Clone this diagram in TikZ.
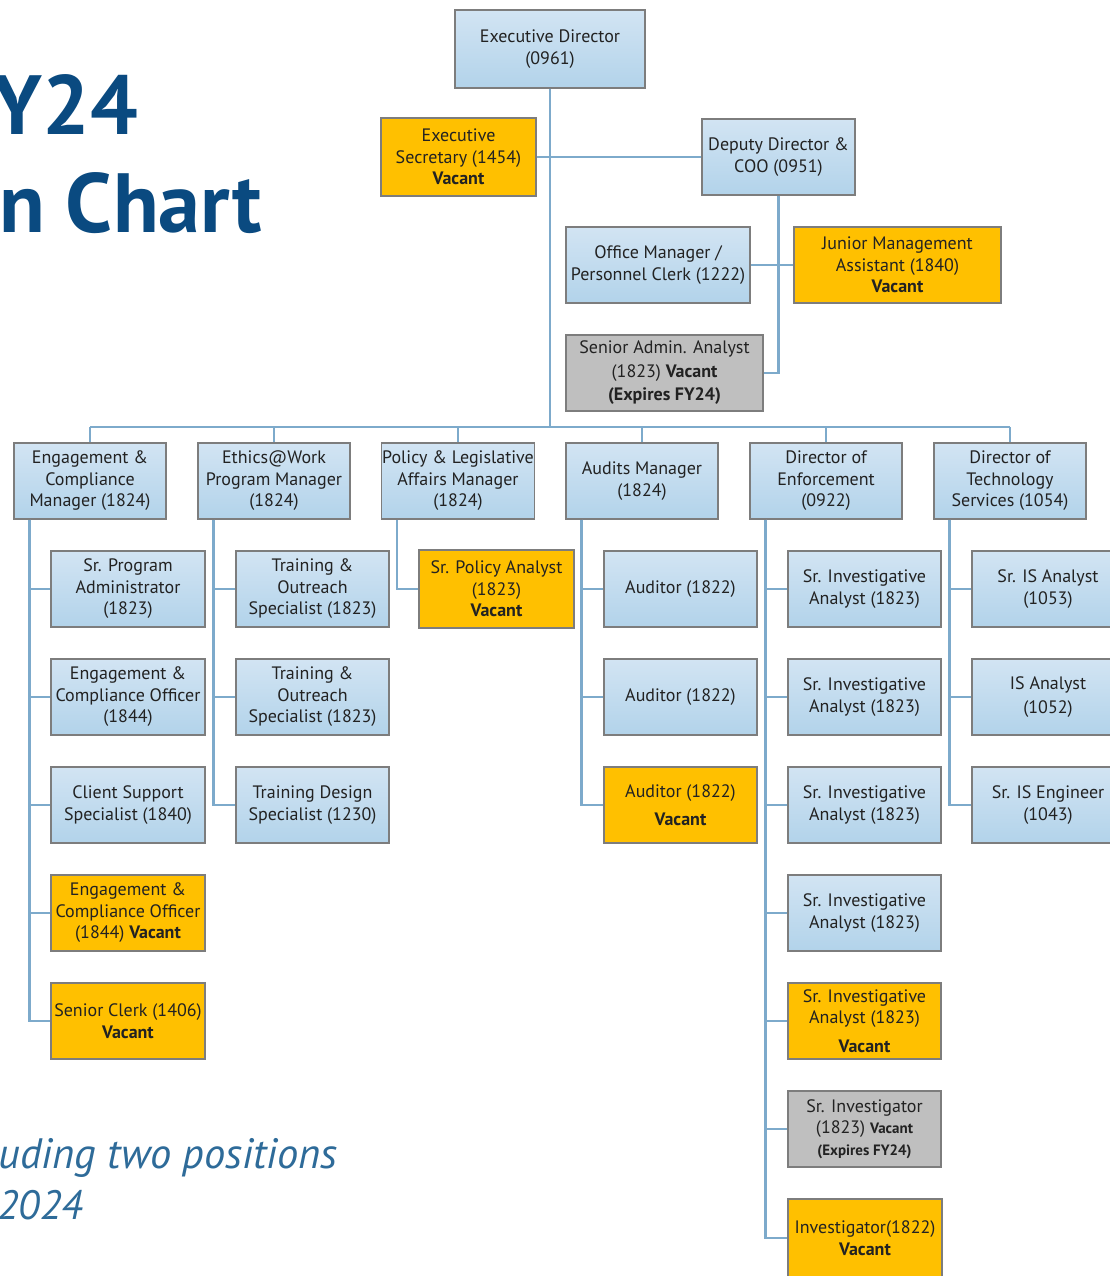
\documentclass[tikz,border=0pt]{standalone}
\usepackage{fontspec}
\setmainfont{PT Sans}
\definecolor{bltop}{RGB}{210,228,243}
\definecolor{blbot}{RGB}{178,211,234}
\definecolor{bord}{RGB}{125,125,125}
\definecolor{org}{RGB}{255,192,0}
\definecolor{gry}{RGB}{191,191,191}
\definecolor{lnk}{RGB}{125,170,203}
\definecolor{ttl}{RGB}{10,74,128}
\definecolor{itc}{RGB}{46,107,153}
\definecolor{txt}{RGB}{34,34,34}
\begin{document}
\begin{tikzpicture}[x=1pt,y=-1pt,
  box/.style={draw=bord, line width=1.2pt, minimum width=152pt, minimum height=76pt, align=center, inner sep=0.5pt, text=txt, font=\fontsize{18}{21.5}\selectfont},
  bluebox/.style={box, top color=bltop, bottom color=blbot},
  orgbox/.style={box, fill=org},
  graybox/.style={box, fill=gry},
  conn/.style={draw=lnk, line width=2.6pt},
  ttext/.style={anchor=base east, inner sep=0pt}
]
\useasboundingbox (0,0) rectangle (1110,1276);
\clip (0,0) rectangle (1110,1276);
\fill[white] (0,0) rectangle (1110,1276);
\coordinate (busy) at (0,427);

% title and note
\node[ttext, font=\fontsize{84}{84}\selectfont\bfseries, text=ttl] (t1) at (138,135) {Y24};
\node[ttext, font=\fontsize{84}{84}\selectfont\bfseries, text=ttl] (t2) at (262,232) {n Chart};
\node[ttext, font=\fontsize{42.5}{42.5}\selectfont\itshape, text=itc] (i1) at (338,1168) {uding two positions};
\node[ttext, font=\fontsize{41}{41}\selectfont\itshape, text=itc] (i2) at (83,1219) {2024};

% top level
\node[bluebox, minimum width=190pt, minimum height=78pt] (ed) at (550,49) {Executive Director\\(0961)};
\node[orgbox, minimum width=155pt, minimum height=78pt] (es) at (458.5,157) {Executive\\Secretary (1454)\\\textbf{Vacant}};
\node[bluebox, minimum width=153pt] (dd) at (778.5,157) {Deputy Director \&\\COO (0951)};
\node[bluebox, minimum width=184pt] (om) at (658,265) {Office Manager /\\Personnel Clerk (1222)};
\node[orgbox, minimum width=207pt] (jma) at (897.5,265) {Junior Management\\Assistant (1840)\\\textbf{Vacant}};
\node[graybox, minimum width=197pt, font=\fontsize{18}{23.5}\selectfont] (saa) at (664.5,373) {Senior Admin. Analyst\\(1823) \textbf{Vacant}\\\textbf{(Expires FY24)}};

% managers
\node[bluebox] (m1) at (90,481) {Engagement \&\\Compliance\\Manager (1824)};
\node[bluebox] (m2) at (274,481) {Ethics@Work\\Program Manager\\(1824)};
\node[bluebox] (m3) at (458,481) {Policy \& Legislative\\Affairs Manager\\(1824)};
\node[bluebox] (m4) at (642,481) {Audits Manager\\(1824)};
\node[bluebox] (m5) at (826,481) {Director of\\Enforcement\\(0922)};
\node[bluebox] (m6) at (1010,481) {Director of\\Technology\\Services (1054)};

% engagement children
\node[bluebox, minimum width=154pt] (e1) at (128,589) {Sr. Program\\Administrator\\(1823)};
\node[bluebox, minimum width=154pt] (e2) at (128,697) {Engagement \&\\Compliance Officer\\(1844)};
\node[bluebox, minimum width=154pt] (e3) at (128,805) {Client Support\\Specialist (1840)};
\node[orgbox, minimum width=154pt] (e4) at (128,913) {Engagement \&\\Compliance Officer\\(1844) \textbf{Vacant}};
\node[orgbox, minimum width=154pt] (e5) at (128,1021) {Senior Clerk (1406)\\\textbf{Vacant}};

% ethics children
\node[bluebox, minimum width=153pt] (w1) at (312.5,589) {Training \&\\Outreach\\Specialist (1823)};
\node[bluebox, minimum width=153pt] (w2) at (312.5,697) {Training \&\\Outreach\\Specialist (1823)};
\node[bluebox, minimum width=153pt] (w3) at (312.5,805) {Training Design\\Specialist (1230)};

% policy child
\node[orgbox, minimum width=155pt, minimum height=78pt] (p1) at (496.5,589) {Sr. Policy Analyst\\(1823)\\\textbf{Vacant}};

% audits children
\node[bluebox, minimum width=153pt] (a1) at (680.5,589) {Auditor (1822)};
\node[bluebox, minimum width=153pt] (a2) at (680.5,697) {Auditor (1822)};
\node[orgbox, minimum width=153pt] (a3) at (680.5,805) {Auditor (1822)\\[7pt]\textbf{Vacant}};

% enforcement children
\node[bluebox, minimum width=153pt] (n1) at (864.5,589) {Sr. Investigative\\Analyst (1823)};
\node[bluebox, minimum width=153pt] (n2) at (864.5,697) {Sr. Investigative\\Analyst (1823)};
\node[bluebox, minimum width=153pt] (n3) at (864.5,805) {Sr. Investigative\\Analyst (1823)};
\node[bluebox, minimum width=153pt] (n4) at (864.5,913) {Sr. Investigative\\Analyst (1823)};
\node[orgbox, minimum width=153pt] (n5) at (864.5,1021) {Sr. Investigative\\Analyst (1823)\\[7pt]\textbf{Vacant}};
\node[graybox, minimum width=153pt] (n6) at (864.5,1129) {Sr. Investigator\\(1823) {\fontsize{15}{19.5}\selectfont\bfseries Vacant}\\{\fontsize{15}{19.5}\selectfont\bfseries (Expires FY24)}};
\node[orgbox, minimum width=154pt, minimum height=78pt] (n7) at (865,1238) {Investigator(1822)\\\textbf{Vacant}};

% technology children
\node[bluebox] (s1) at (1048,589) {Sr. IS Analyst\\(1053)};
\node[bluebox, font=\fontsize{18}{24}\selectfont] (s2) at (1048,697) {IS Analyst\\(1052)};
\node[bluebox] (s3) at (1048,805) {Sr. IS Engineer\\(1043)};

% connectors
\draw[conn] (ed.south) -- (ed.south |- busy);
\draw[conn] (es.east) -- (dd.west);
\draw[conn] (dd.south) |- (saa.east);
\draw[conn] (om.east) -- (jma.west);
\draw[conn] (m1.north |- busy) -- (m6.north |- busy);
\foreach \m in {m1,m2,m3,m4,m5,m6} {\draw[conn] (\m.north) -- (\m.north |- busy);}
\foreach \c in {e1,e2,e3,e4,e5} {\draw[conn] ([xshift=16pt]m1.south west) |- (\c.west);}
\foreach \c in {w1,w2,w3} {\draw[conn] ([xshift=16pt]m2.south west) |- (\c.west);}
\draw[conn] ([xshift=16pt]m3.south west) |- (p1.west);
\foreach \c in {a1,a2,a3} {\draw[conn] ([xshift=16pt]m4.south west) |- (\c.west);}
\foreach \c in {n1,n2,n3,n4,n5,n6,n7} {\draw[conn] ([xshift=16pt]m5.south west) |- (\c.west);}
\foreach \c in {s1,s2,s3} {\draw[conn] ([xshift=16pt]m6.south west) |- (\c.west);}
\end{tikzpicture}
\end{document}
